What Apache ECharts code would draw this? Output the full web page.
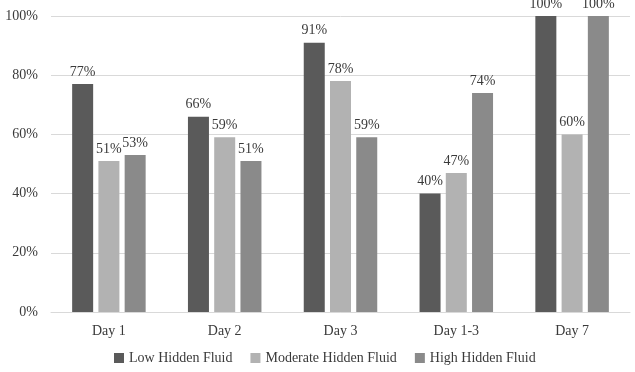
<!DOCTYPE html>
<html>
<head>
<meta charset="utf-8">
<script src="https://cdn.jsdelivr.net/npm/echarts@6/dist/echarts.min.js"></script>
<style>
  html, body { margin: 0; padding: 0; background: #fff; }
  #chart { width: 635px; height: 372px; }
</style>
</head>
<body>
<div id="chart"></div>
<script>
// categories and values
const days = ['Day 1', 'Day 2', 'Day 3', 'Day 1-3', 'Day 7'];
const lowFluid = [77, 66, 91, 40, 100];
const moderateFluid = [51, 59, 78, 47, 60];
const highFluid = [53, 51, 59, 74, 100];
const yTicks = [0, 20, 40, 60, 80, 100];

const font = 'Liberation Serif';
const textColor = '#3a3a3a';

function barSeries(name, data, color) {
  return {
    name: name,
    type: 'bar',
    data: data,
    barWidth: 21,
    barGap: '25%',
    itemStyle: { color: color },
    label: {
      show: true,
      position: 'top',
      distance: 5,
      formatter: '{c}%',
      fontFamily: font,
      fontSize: 14,
      color: textColor
    }
  };
}

const chart = echarts.init(document.getElementById('chart'));
chart.setOption({
  animation: false,
  textStyle: { fontFamily: font },
  grid: { left: 51, right: 5, top: 16, bottom: 60, containLabel: false },
  legend: {
    left: 109,
    bottom: 2,
    itemWidth: 10,
    itemHeight: 10,
    itemGap: 18,
    icon: 'rect',
    textStyle: { fontFamily: font, fontSize: 14, color: textColor },
    data: ['Low Hidden Fluid', 'Moderate Hidden Fluid', 'High Hidden Fluid']
  },
  xAxis: {
    type: 'category',
    data: days,
    axisLine: { lineStyle: { color: '#d9d9d9' } },
    axisTick: { show: false },
    axisLabel: { fontFamily: font, fontSize: 14, color: textColor, margin: 12 }
  },
  yAxis: {
    type: 'value',
    min: yTicks[0],
    max: yTicks[yTicks.length - 1],
    interval: 20,
    axisLine: { show: false },
    axisTick: { show: false },
    splitLine: { lineStyle: { color: '#d9d9d9' } },
    axisLabel: { formatter: '{value}%', fontFamily: font, fontSize: 14, color: textColor, margin: 13 }
  },
  series: [
    barSeries('Low Hidden Fluid', lowFluid, '#5a5a5a'),
    barSeries('Moderate Hidden Fluid', moderateFluid, '#b2b2b2'),
    barSeries('High Hidden Fluid', highFluid, '#8a8a8a')
  ]
});
</script>
</body>
</html>
